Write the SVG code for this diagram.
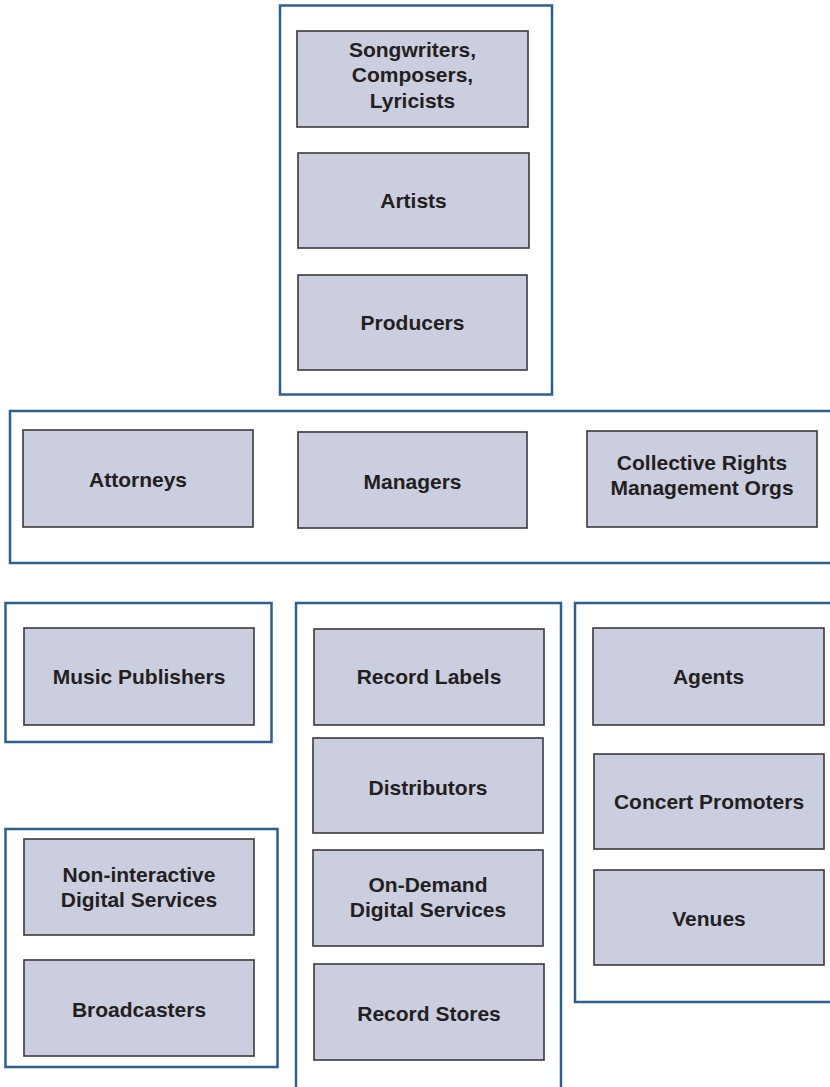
<svg xmlns="http://www.w3.org/2000/svg" width="830" height="1087" viewBox="0 0 830 1087">
<style>
.grp{fill:none;stroke:#2c5f94;stroke-width:2.5}
.box{fill:#cbcedf;stroke:#3a3a3c;stroke-width:1.6}
.lbl{font-family:"Liberation Sans",Arial,Helvetica,sans-serif;font-weight:bold;font-size:21px;fill:#231f20;text-anchor:middle}
</style>
<rect width="830" height="1087" fill="#ffffff"/>
<g id="containers">
<rect id="group-creators" class="grp" x="280" y="5.5" width="272" height="389"/>
<rect id="group-advisors" class="grp" x="10" y="411" width="830" height="152"/>
<rect id="group-publishers" class="grp" x="5.5" y="603" width="266" height="139"/>
<rect id="group-records" class="grp" x="296" y="603" width="265" height="500"/>
<rect id="group-live" class="grp" x="575" y="603" width="270" height="399"/>
<rect id="group-broadcast" class="grp" x="5.5" y="829" width="272" height="238"/>
</g>
<g id="connectors"></g>
<g id="songwriters"><rect class="box" x="297" y="31" width="231" height="96"/><text class="lbl" x="412.5" y="57">Songwriters,</text><text class="lbl" x="412.5" y="82">Composers,</text><text class="lbl" x="412.5" y="108">Lyricists</text></g>
<g id="artists"><rect class="box" x="298" y="153" width="231" height="95"/><text class="lbl" x="413.5" y="208">Artists</text></g>
<g id="producers"><rect class="box" x="298" y="275" width="229" height="95"/><text class="lbl" x="412.5" y="330">Producers</text></g>
<g id="attorneys"><rect class="box" x="23" y="430" width="230" height="97"/><text class="lbl" x="138" y="487">Attorneys</text></g>
<g id="managers"><rect class="box" x="298" y="432" width="229" height="96"/><text class="lbl" x="412.5" y="489">Managers</text></g>
<g id="crmo"><rect class="box" x="587" y="431" width="230" height="96"/><text class="lbl" x="702" y="470">Collective Rights</text><text class="lbl" x="702" y="495">Management Orgs</text></g>
<g id="music-publishers"><rect class="box" x="24" y="628" width="230" height="97"/><text class="lbl" x="139" y="684">Music Publishers</text></g>
<g id="record-labels"><rect class="box" x="314" y="629" width="230" height="96"/><text class="lbl" x="429" y="684">Record Labels</text></g>
<g id="distributors"><rect class="box" x="313" y="738" width="230" height="95"/><text class="lbl" x="428" y="795">Distributors</text></g>
<g id="on-demand"><rect class="box" x="313" y="850" width="230" height="96"/><text class="lbl" x="428" y="892">On-Demand</text><text class="lbl" x="428" y="917">Digital Services</text></g>
<g id="record-stores"><rect class="box" x="314" y="964" width="230" height="96"/><text class="lbl" x="429" y="1021">Record Stores</text></g>
<g id="agents"><rect class="box" x="593" y="628" width="231" height="97"/><text class="lbl" x="708.5" y="684">Agents</text></g>
<g id="concert-promoters"><rect class="box" x="594" y="754" width="230" height="95"/><text class="lbl" x="709" y="809">Concert Promoters</text></g>
<g id="venues"><rect class="box" x="594" y="870" width="230" height="95"/><text class="lbl" x="709" y="926">Venues</text></g>
<g id="non-interactive"><rect class="box" x="24" y="839" width="230" height="96"/><text class="lbl" x="139" y="882">Non-interactive</text><text class="lbl" x="139" y="907">Digital Services</text></g>
<g id="broadcasters"><rect class="box" x="24" y="960" width="230" height="96"/><text class="lbl" x="139" y="1017">Broadcasters</text></g>
</svg>
